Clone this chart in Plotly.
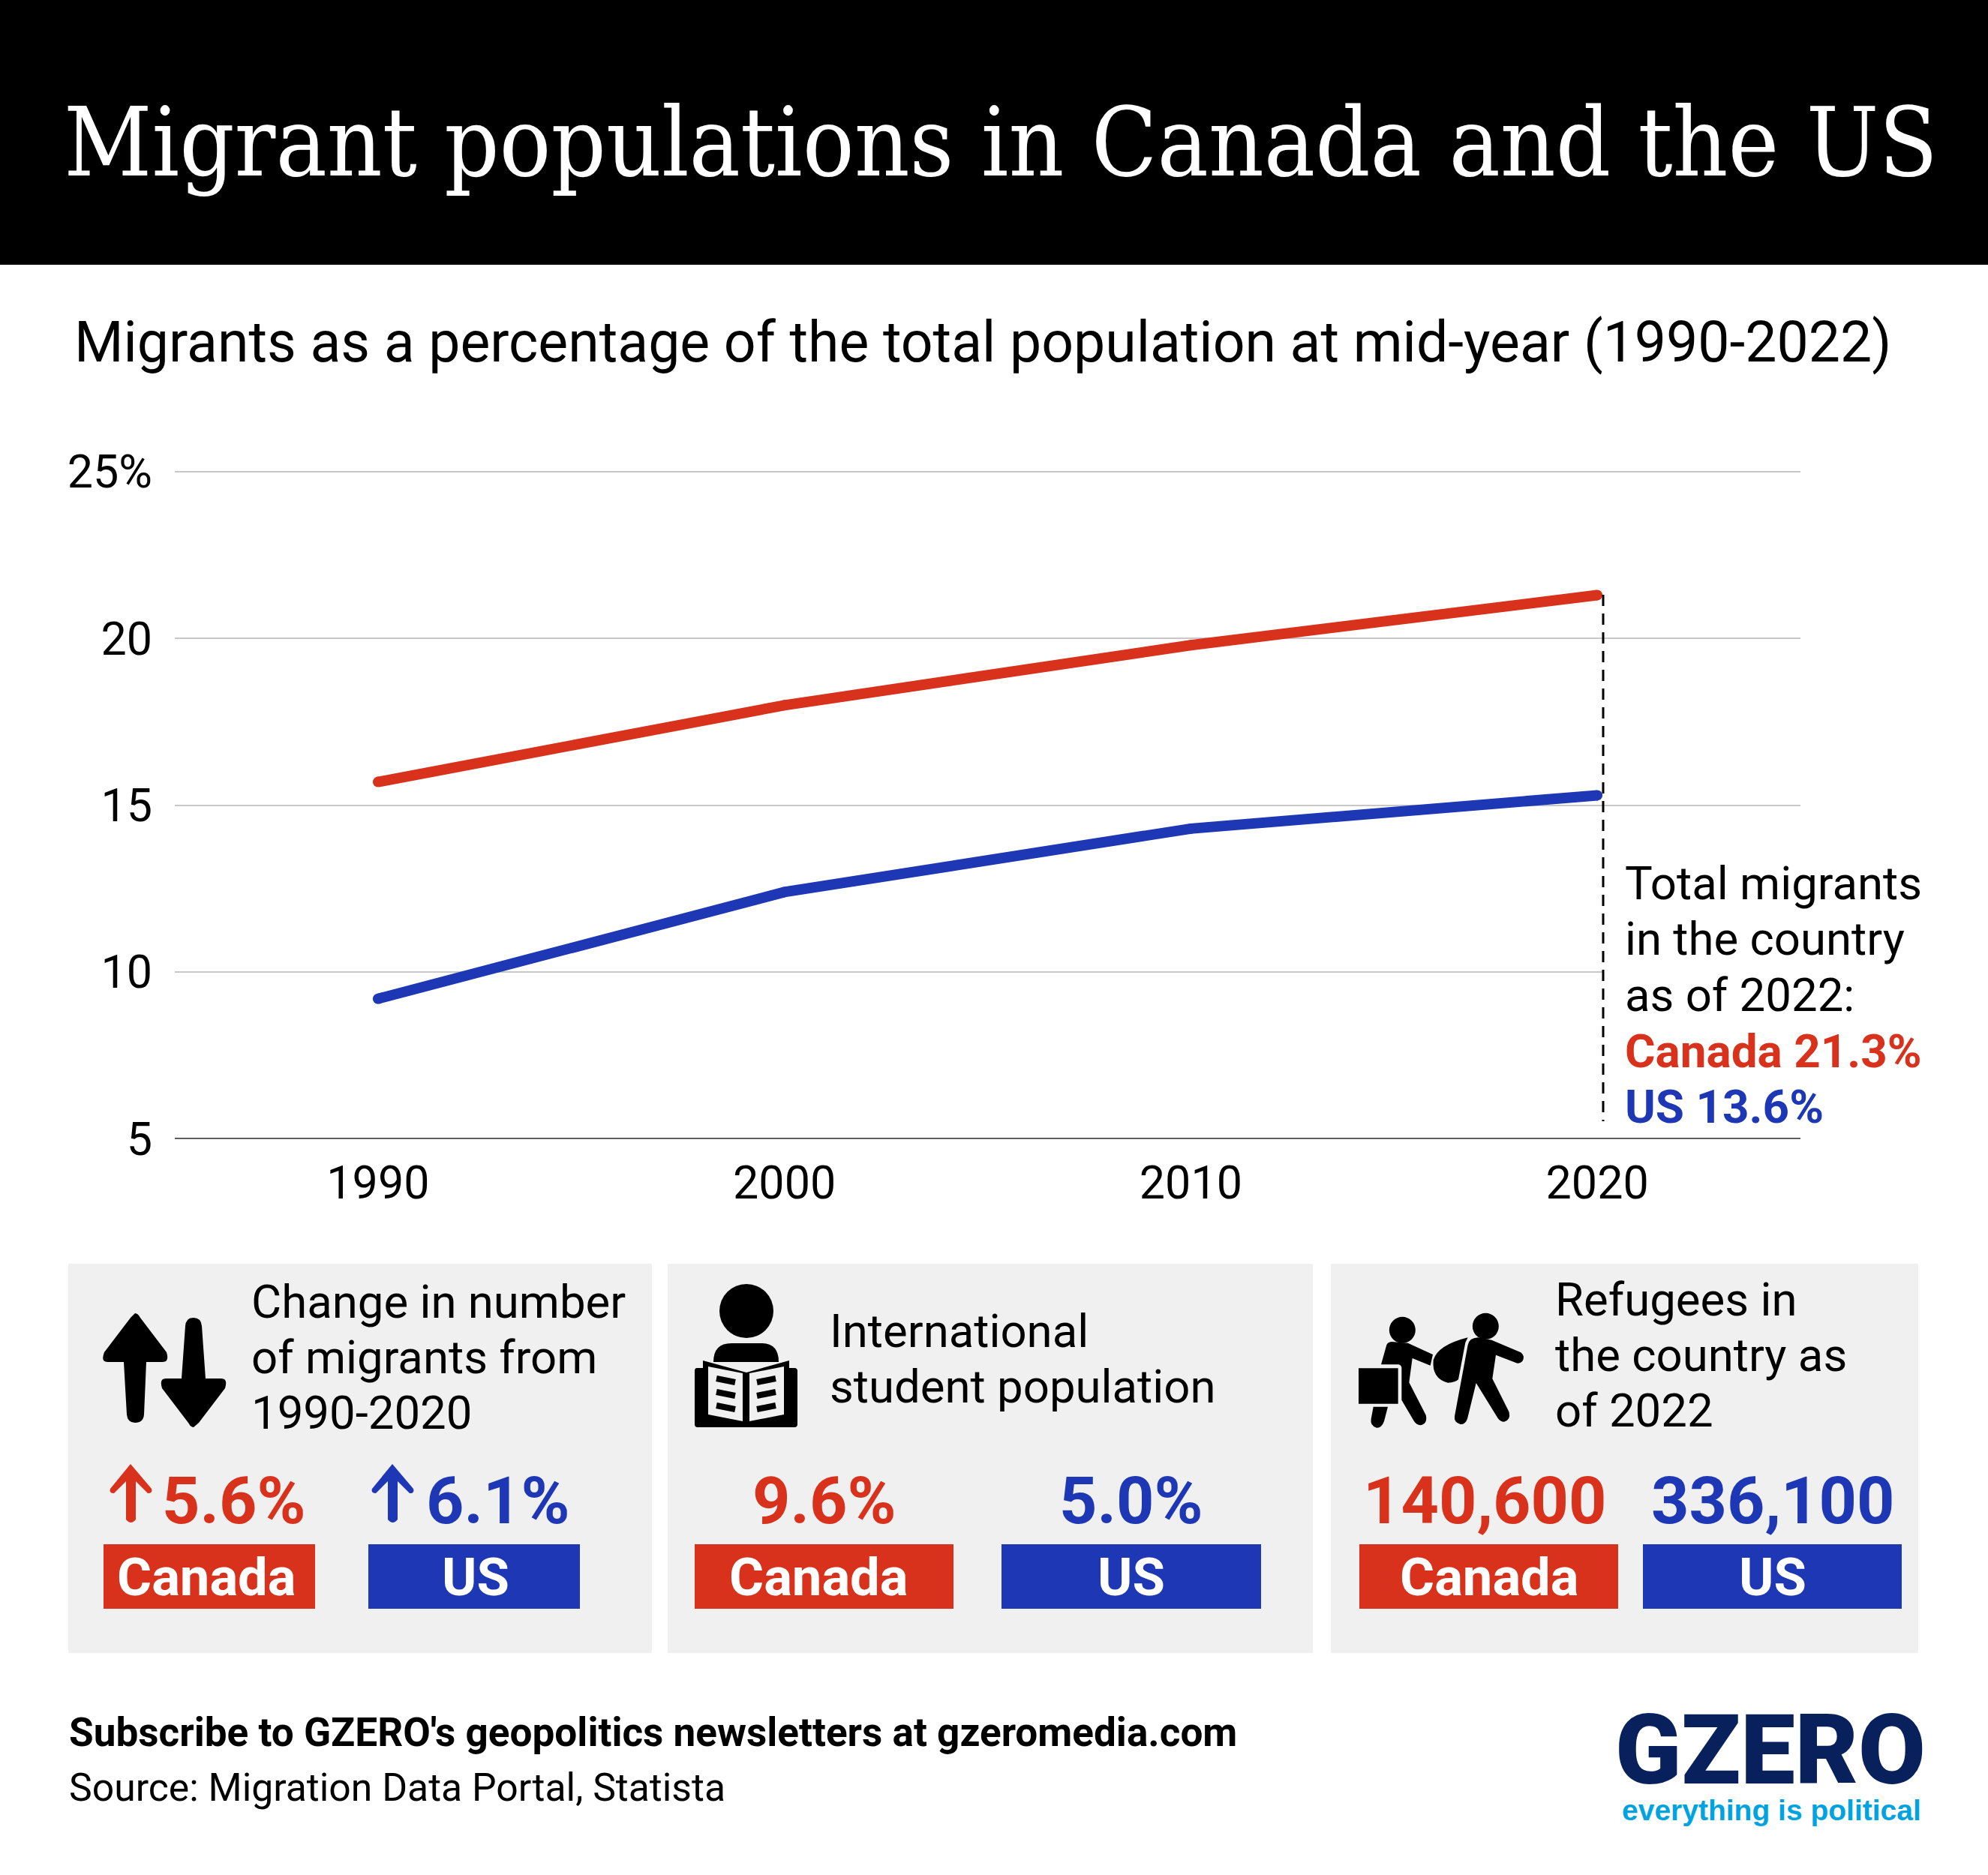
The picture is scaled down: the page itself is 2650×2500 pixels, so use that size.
import plotly.graph_objects as go

W, H = 2650, 2500
years = [1990, 2000, 2010, 2020]
canada = [15.7, 18.0, 19.8, 21.3]
us = [9.2, 12.4, 14.3, 15.3]
y_ticks = [5, 10, 15, 20, 25]
y_labels = ["5", "10", "15", "20", "25%"]

RED = "#D8321C"
BLUE = "#1E38B5"
GREY = "#F0F0F0"
NAVY = "#08215C"
SKY = "#00A3E0"
SANS = "Roboto"

def px(x): return x / W
def py(y): return 1 - y / H

shapes, annos = [], []

def rect(x0, y0, x1, y1, color, layer="below"):
    shapes.append(dict(type="rect", xref="paper", yref="paper", x0=px(x0), x1=px(x1),
                       y0=py(y1), y1=py(y0), fillcolor=color, line=dict(width=0), layer=layer))

def poly(cmds, color, tx=lambda x, y: (x, y)):
    out = []
    for c in cmds:
        if c[0] == "Z":
            out.append("Z")
            continue
        pts = []
        for i in range(1, len(c), 2):
            a, b = tx(c[i], c[i + 1])
            pts.append(f"{px(a):.5f},{py(b):.5f}")
        out.append(c[0] + " ".join(pts))
    shapes.append(dict(type="path", xref="paper", yref="paper", path=" ".join(out),
                       fillcolor=color, line=dict(width=0), layer="above"))

def ellipse(cx, cy, rx, ry, color):
    shapes.append(dict(type="circle", xref="paper", yref="paper", x0=px(cx - rx), x1=px(cx + rx),
                       y0=py(cy + ry), y1=py(cy - ry), fillcolor=color, line=dict(width=0), layer="above"))

def seg(x0, y0, x1, y1, color, width):
    shapes.append(dict(type="line", xref="paper", yref="paper", x0=px(x0), x1=px(x1), y0=py(y0), y1=py(y1),
                       line=dict(color=color, width=width), layer="above"))

def text(x, y, s, size, color="#000000", anchor="left", weight=400, family=SANS):
    annos.append(dict(x=px(x), y=py(y), xref="paper", yref="paper", text=s, showarrow=False,
                      xanchor=anchor, yanchor="middle", align=anchor,
                      font=dict(family=family, size=size, color=color, weight=weight)))

# backgrounds
rect(0, 0, W, 353, "#000000")
rect(91, 1685, 869, 2204, GREY)
rect(890, 1685, 1750, 2204, GREY)
rect(1774, 1685, 2557, 2204, GREY)
for x0, x1, c, lab, cx in [(138, 420, RED, "Canada", 275), (491, 773, BLUE, "US", 633.5),
                           (926, 1271, RED, "Canada", 1091), (1335, 1681, BLUE, "US", 1508),
                           (1812, 2157, RED, "Canada", 1985.5), (2190, 2535, BLUE, "US", 2362.5)]:
    rect(x0, 2059, x1, 2145, c)
    text(cx, 2103, lab, 70.5, "#FFFFFF", "center", 700)

# title, subtitle
text(83, 190, "Migrant populations in Canada and the US", 127.5, "#FFFFFF", "left", 400, "DejaVu Serif Condensed")
text(97, 456, "Migrants as a percentage of the total population at mid-year (1990-2022)", 75.15)

# side note
for y, s in zip([1178, 1252, 1327], ["Total migrants", "in the country", "as of 2022:"]):
    text(2164, y, s, 61.7)
text(2164, 1401, "Canada 21.3%", 62, RED, "left", 700)
text(2164, 1475, "US 13.6%", 62, BLUE, "left", 700)

# panels
for y, s in zip([1736, 1810, 1884], ["Change in number", "of migrants from", "1990-2020"]):
    text(333, y, s, 61.7)
for y, s in zip([1775, 1849], ["International", "student population"]):
    text(1104, y, s, 61.7)
for y, s in zip([1733, 1807, 1881], ["Refugees in", "the country as", "of 2022"]):
    text(2071, y, s, 61.7)
text(214, 2000, "5.6%", 88, RED, "left", 700)
text(566, 2000, "6.1%", 88, BLUE, "left", 700)
text(1099, 2000, "9.6%", 88, RED, "center", 700)
text(1508, 2000, "5.0%", 88, BLUE, "center", 700)
text(1979, 2000, "140,600", 88, RED, "center", 700)
text(2363, 2000, "336,100", 88, BLUE, "center", 700)

# footer
text(90, 2310, "Subscribe to GZERO's geopolitics newsletters at gzeromedia.com", 53.1, "#000000", "left", 700)
text(90, 2383, "Source: Migration Data Portal, Statista", 51.7)
text(2360, 2334, "GZERO", 129.5, NAVY, "center", 900)
text(2361, 2413, "everything is political", 39, SKY, "center", 700, "Liberation Sans")

# big arrows (panel 1)
poly([("M", 180, 1751), ("Q", 184, 1751, 187, 1757), ("L", 222, 1803), ("Q", 226, 1816, 217, 1816),
      ("L", 195, 1816), ("L", 192, 1886), ("Q", 191, 1897, 180, 1897), ("Q", 170, 1897, 169, 1886),
      ("L", 165, 1816), ("L", 143, 1816), ("Q", 134, 1816, 139, 1803), ("L", 174, 1757), ("Z",)], "#000000")
poly([("M", 258, 1903), ("Q", 254, 1903, 251, 1897), ("L", 216, 1851), ("Q", 212, 1838, 221, 1838),
      ("L", 242, 1838), ("L", 247, 1768), ("Q", 248, 1757, 258, 1757), ("Q", 268, 1757, 269, 1768),
      ("L", 274, 1838), ("L", 295, 1838), ("Q", 304, 1838, 300, 1851), ("L", 265, 1897), ("Z",)], "#000000")

# small arrows
def small_arrow(dx, color):
    poly([("M", 174 + dx, 1952), ("L", 202 + dx, 1985), ("Q", 204 + dx, 1991, 197 + dx, 1991),
          ("L", 181 + dx, 1975), ("L", 181 + dx, 2026), ("Q", 174.5 + dx, 2034, 168 + dx, 2026),
          ("L", 168 + dx, 1975), ("L", 152 + dx, 1991), ("Q", 145 + dx, 1991, 147 + dx, 1985), ("Z",)], color)
small_arrow(0, RED)
small_arrow(349, BLUE)

# student icon
ellipse(995, 1748, 36, 36, "#000000")
poly([("M", 951, 1816), ("Q", 951, 1791, 975, 1791), ("L", 1015, 1791), ("Q", 1038, 1791, 1038, 1816), ("Z",)], "#000000")
poly([("M", 937, 1814), ("L", 937, 1824), ("L", 929, 1824), ("Q", 926, 1824, 926, 1828), ("L", 926, 1899),
      ("Q", 926, 1903, 930, 1903), ("L", 1059, 1903), ("Q", 1063, 1903, 1063, 1899), ("L", 1063, 1828),
      ("Q", 1063, 1824, 1059, 1824), ("L", 1052, 1824), ("L", 1052, 1814), ("L", 995, 1830), ("Z",)], "#000000")
poly([("M", 944, 1822), ("L", 990, 1831), ("L", 990, 1895), ("L", 944, 1886), ("Z",)], "#F0F0F0")
poly([("M", 999, 1831), ("L", 1045, 1822), ("L", 1045, 1886), ("L", 999, 1895), ("Z",)], "#F0F0F0")
for dy in [0, 18, 36]:
    seg(955, 1838 + dy, 980, 1843 + dy, "#000000", 8)
    seg(1009, 1843 + dy, 1034, 1838 + dy, "#000000", 8)

# refugee icon, traced in a 3x grid anchored at (1790,1730)
def rz(x, y): return 1790 + x / 3, 1730 + y / 3
poly([("M", 175, 190), ("Q", 180, 178, 195, 177), ("L", 260, 182), ("L", 360, 228), ("L", 350, 272), ("L", 278, 243),
      ("L", 265, 340), ("L", 332, 470), ("Q", 340, 505, 310, 511), ("Q", 295, 510, 285, 495), ("L", 235, 410),
      ("L", 235, 280), ("Q", 232, 268, 220, 268), ("L", 153, 268), ("Z",)], "#000000", rz)
poly([("M", 63, 283), ("L", 221, 283), ("L", 221, 425), ("L", 63, 425), ("Z",)], "#000000", rz)
poly([("M", 122, 437), ("L", 180, 437), ("L", 165, 495), ("Q", 155, 522, 135, 521), ("Q", 108, 512, 113, 485), ("Z",)], "#000000", rz)
poly([("M", 500, 160), ("Q", 380, 190, 362, 250), ("Q", 355, 325, 420, 341), ("Q", 450, 340, 462, 328), ("L", 490, 180), ("Z",)], "#000000", rz)
poly([("M", 500, 190), ("Q", 505, 162, 540, 160), ("L", 595, 170), ("L", 712, 220), ("Q", 730, 235, 718, 255),
      ("Q", 705, 268, 690, 260), ("L", 612, 230), ("L", 598, 325), ("L", 665, 458), ("Q", 672, 490, 645, 497),
      ("Q", 630, 497, 620, 483), ("L", 533, 342), ("L", 498, 485), ("Q", 490, 508, 470, 507), ("Q", 443, 500, 447, 475), ("Z",)], "#000000", rz)
ellipse(1790 + 238 / 3, 1730 + 130 / 3, 17.5, 17.5, "#000000")
ellipse(1790 + 571 / 3, 1730 + 115 / 3, 17.5, 17.5, "#000000")

# mask of gridline behind note, baseline, leader
rect(2138, 1288, 2402, 1304, "#FFFFFF", "above")
shapes.append(dict(type="line", xref="paper", yref="y", x0=px(233), x1=px(2400), y0=5, y1=5,
                   line=dict(color="#000000", width=2.5), layer="above"))
shapes.append(dict(type="line", xref="paper", yref="paper", x0=px(2137), x1=px(2137), y0=py(793), y1=py(1495),
                   line=dict(color="#000000", width=3, dash="15px,10px"), layer="above"))

fig = go.Figure()
for name, vals, col in [("Canada", canada, RED), ("US", us, BLUE)]:
    fig.add_trace(go.Scatter(x=years, y=vals, name=name, mode="lines+markers",
                             line=dict(color=col, width=14), marker=dict(color=col, size=14)))

unit = (1518.5 - 629) / 20
fig.update_layout(
    width=W, height=H, autosize=False, margin=dict(l=0, r=0, t=0, b=0, autoexpand=False),
    paper_bgcolor="#FFFFFF", plot_bgcolor="#FFFFFF", showlegend=False,
    font=dict(family=SANS, color="#000000"),
    shapes=shapes, annotations=annos,
    xaxis=dict(domain=[px(233), px(2400)], range=[1985, 2025], tickvals=years, showgrid=False, zeroline=False,
               showline=False, ticks="", ticklabelstandoff=17,
               tickfont=dict(family=SANS, size=61, color="#000000")),
    yaxis=dict(domain=[py(1518.5), py(629 - unit)], range=[5, 26], tickvals=y_ticks, ticktext=y_labels, showgrid=True,
               gridcolor="#C8C8C8", gridwidth=2, zeroline=False, showline=False, ticks="", ticklabelstandoff=29,
               tickfont=dict(family=SANS, size=61, color="#000000")),
)
fig.write_html("out.html", post_script="document.body.style.margin='0';", config=dict(displayModeBar=False))
